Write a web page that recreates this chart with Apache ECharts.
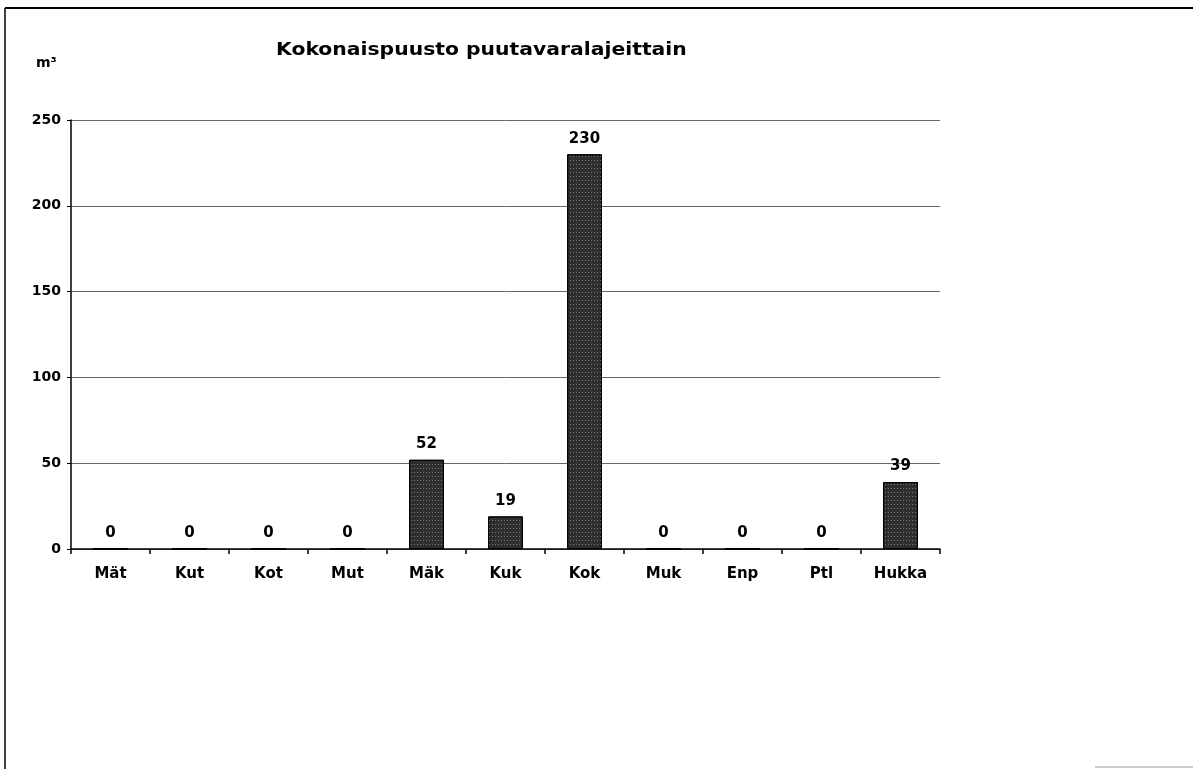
<!DOCTYPE html>
<html>
<head>
<meta charset="utf-8">
<script src="https://cdn.jsdelivr.net/npm/echarts@6/dist/echarts.min.js"></script>
<style>html,body{margin:0;padding:0;background:#fff}#c{width:1193px;height:769px}</style>
</head>
<body>
<div id="c"></div>
<script>
const categories = ['Mät','Kut','Kot','Mut','Mäk','Kuk','Kok','Muk','Enp','Ptl','Hukka'];
const values = [0,0,0,0,52,19,230,0,0,0,39];
const yTicks = [0,50,100,150,200,250];
const titleText = 'Kokonaispuusto puutavaralajeittain';
const unitText = 'm³';

const chart = echarts.init(document.getElementById('c'));
const font = 'DejaVu Sans, Verdana, sans-serif';
chart.setOption({
  backgroundColor: '#fff',
  animation: false,
  graphic: [
    {type: 'line', shape: {x1: 5, y1: 8, x2: 1193, y2: 8}, style: {stroke: '#000', lineWidth: 2}},
    {type: 'line', shape: {x1: 5, y1: 8, x2: 5, y2: 769}, style: {stroke: '#000', lineWidth: 1.5}},
    {type: 'line', shape: {x1: 1095, y1: 767, x2: 1193, y2: 767}, style: {stroke: '#999', lineWidth: 1}},
    {type: 'text', x: 276, y: 50, scaleX: 1.13,
     style: {text: titleText, font: 'bold 18px ' + font, fill: '#000', textAlign: 'left', textVerticalAlign: 'middle'}},
    {type: 'text', x: 36, y: 63,
     style: {text: unitText, font: 'bold 14px ' + font, fill: '#000', textAlign: 'left', textVerticalAlign: 'middle'}}
  ],
  grid: {left: 71, right: 253, top: 120, bottom: 220, containLabel: false},
  xAxis: {
    type: 'category', data: categories,
    axisLine: {lineStyle: {color: '#000', width: 1.5}},
    axisTick: {show: true, length: 5, lineStyle: {color: '#000', width: 1.5}},
    axisLabel: {fontFamily: font, fontSize: 15, fontWeight: 'bold', color: '#000', margin: 18}
  },
  yAxis: {
    type: 'value', min: yTicks[0], max: yTicks[yTicks.length - 1], interval: 50,
    axisLine: {show: true, lineStyle: {color: '#000', width: 1.5}},
    axisTick: {show: true, length: 4, lineStyle: {color: '#000'}},
    axisLabel: {fontFamily: font, fontSize: 14, fontWeight: 'bold', color: '#000', margin: 10},
    splitLine: {lineStyle: {color: '#666', width: 1}}
  },
  series: [{
    type: 'bar', data: values, barWidth: '44%',
    itemStyle: {
      color: '#2e2e2e', borderColor: '#000', borderWidth: 1,
      decal: {symbol: 'rect', symbolSize: 1, color: 'rgba(255,255,255,0.35)', dashArrayX: [1, 2], dashArrayY: [1, 3], rotation: 0}
    },
    label: {show: true, position: 'top', distance: 8, fontFamily: font, fontSize: 15, fontWeight: 'bold', color: '#000'}
  }]
});
</script>
</body>
</html>
